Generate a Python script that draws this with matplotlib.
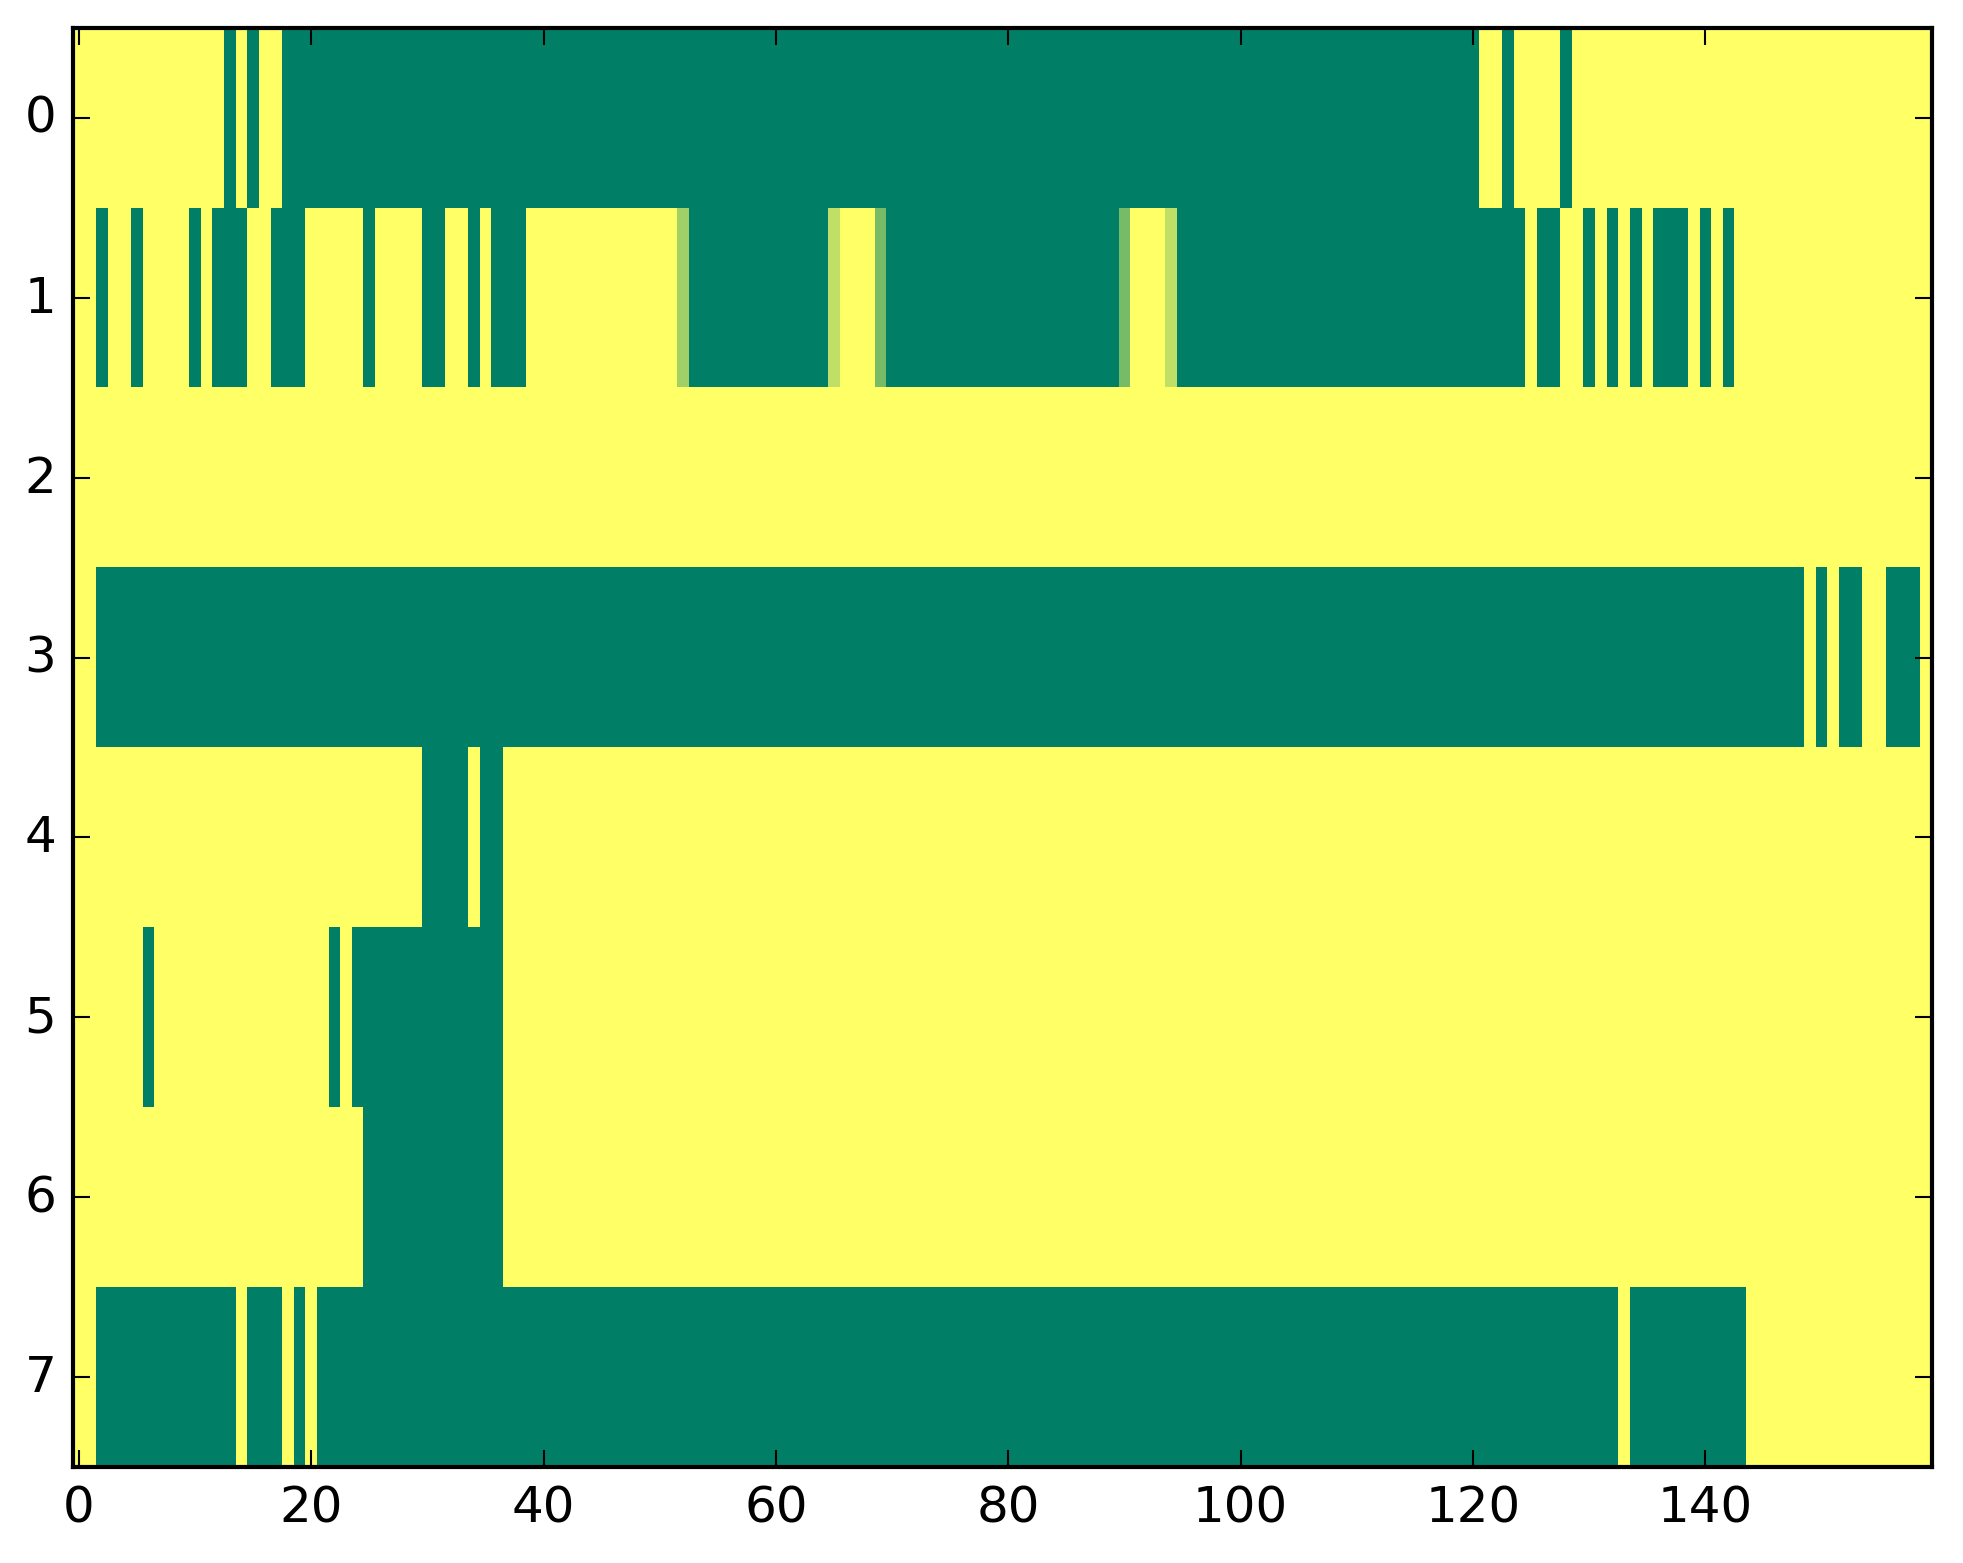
import numpy as np
import matplotlib
matplotlib.use('Agg')
import matplotlib.pyplot as plt

plt.style.use('classic')

n_rows = 8
n_cols = 160

# green (low value) runs per row, inclusive column ranges; everything else is 1.0 (yellow)
row0_low = [(13, 13), (15, 15), (18, 120), (123, 123), (128, 128)]
row1_low = [(2, 2), (5, 5), (10, 10), (12, 14), (17, 19), (25, 25), (30, 31),
            (34, 34), (36, 38), (53, 64), (70, 89), (95, 124), (126, 127),
            (130, 130), (132, 132), (134, 134), (136, 138), (140, 140), (142, 142)]
row2_low = []
row3_low = [(2, 148), (150, 150), (152, 153), (156, 158)]
row4_low = [(30, 33), (35, 36)]
row5_low = [(6, 6), (22, 22), (24, 36)]
row6_low = [(25, 36)]
row7_low = [(2, 13), (15, 17), (19, 19), (21, 132), (134, 143)]

# the few in-between cells in row 1
row1_mid_cols = [52, 65, 69, 90, 94]
row1_mid_vals = [0.63, 0.75, 0.47, 0.47, 0.75]

all_low = [row0_low, row1_low, row2_low, row3_low, row4_low, row5_low, row6_low, row7_low]

grid = np.ones((n_rows, n_cols))
for r, runs in enumerate(all_low):
    for a, b in runs:
        grid[r, a:b + 1] = 0.0
for c, v in zip(row1_mid_cols, row1_mid_vals):
    grid[1, c] = v

fig = plt.figure(figsize=(1963 / 300, 1564 / 300), dpi=300, facecolor='white')
ax = fig.add_axes([73 / 1963, 96 / 1564, 1859 / 1963, 1439 / 1564])
ax.imshow(grid, cmap='summer', vmin=0, vmax=1, aspect='auto', interpolation='nearest')

ax.set_xticks(np.arange(0, 141, 20))
ax.set_yticks(np.arange(0, 8))
ax.set_xlim(-0.5, n_cols - 0.5)
ax.set_ylim(n_rows - 0.5, -0.5)
ax.tick_params(labelsize=12)

fig.savefig('out.png', dpi=300, facecolor='white')
